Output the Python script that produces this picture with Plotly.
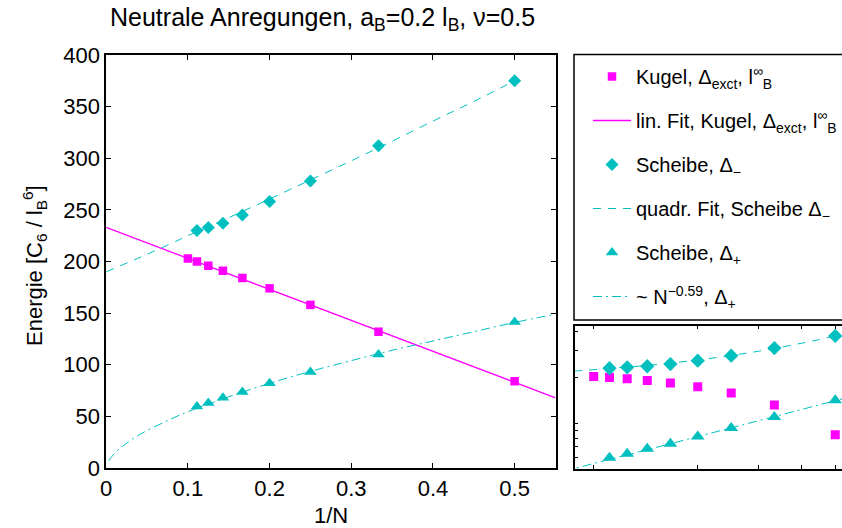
import plotly.graph_objects as go

# ---------------- data ----------------
inv_n_kugel = [0.1, 0.1111, 0.125, 0.1429, 0.1667, 0.2, 0.25, 0.3333, 0.5]
e_kugel = [203, 200, 196, 191, 184, 174, 158, 132, 84]

inv_n_scheibe = [0.1111, 0.125, 0.1429, 0.1667, 0.2, 0.25, 0.3333, 0.5]
e_scheibe_minus = [230, 233, 237, 245, 258, 278, 312, 375]
e_scheibe_plus = [59.5, 63, 68, 73.5, 82, 93, 110, 141.5]

# fit curves
lin_fit_x = [0.0, 0.55]
lin_fit_y = [233, 68]

quad_fit_x = [0.0, 0.05, 0.088, 0.1, 0.15, 0.2, 0.25, 0.3, 0.35, 0.4, 0.45, 0.5]
quad_fit_y = [190, 207, 220.5, 225, 242.5, 260.5, 279, 297.5, 316.5, 336, 355, 375]

pow_fit_x = [0.003, 0.01, 0.02, 0.04, 0.07, 0.088, 0.1, 0.15, 0.2, 0.25, 0.3,
             0.35, 0.4, 0.45, 0.5, 0.55]
pow_fit_y = [7, 14, 21, 32, 44, 50.6, 54.5, 69, 82, 93.6, 104, 114, 123, 132,
             141, 149]

x_ticks = [0, 0.1, 0.2, 0.3, 0.4, 0.5]
x_ticktext = ["0", "0.1", "0.2", "0.3", "0.4", "0.5"]
y_ticks = [0, 50, 100, 150, 200, 250, 300, 350, 400]
inset_x_ticks = [0.1, 0.2, 0.3, 0.4, 0.5]
inset_y_ticks = [60, 70, 80, 90, 100, 200, 300, 400]

title_text = "Neutrale Anregungen, a<sub>B</sub>=0.2 l<sub>B</sub>, ν=0.5"
x_title = "1/N"
y_title = "Energie [C<sub>6</sub> / l<sub>B</sub><sup>6</sup>]"
legend_names = [
    "Kugel, Δ<sub>exct</sub>, l<sup>∞</sup><sub>B</sub>",
    "lin. Fit, Kugel, Δ<sub>exct</sub>, l<sup>∞</sup><sub>B</sub>",
    "Scheibe, Δ<sub>−</sub>",
    "quadr. Fit, Scheibe Δ<sub>−</sub>",
    "Scheibe, Δ<sub>+</sub>",
    "~ N<sup>−0.59</sup>, Δ<sub>+</sub>",
]

# ---------------- styling ----------------
W, H = 842, 528
MAG = "#FF00FF"
CYAN = "#00BFBF"
FONT = "Liberation Sans, Arial, Helvetica, sans-serif"

def px_x(p):
    return p / W

def px_y(p):
    return 1 - p / H

fig = go.Figure()

# main plot traces (legend order)
fig.add_trace(go.Scatter(x=inv_n_kugel, y=e_kugel, mode="markers",
                         marker=dict(symbol="square", size=8.5, color=MAG),
                         name=legend_names[0], legendgroup="g1"))
fig.add_trace(go.Scatter(x=lin_fit_x, y=lin_fit_y, mode="lines",
                         line=dict(color=MAG, width=1.3),
                         name=legend_names[1], legendgroup="g2"))
fig.add_trace(go.Scatter(x=inv_n_scheibe, y=e_scheibe_minus, mode="markers",
                         marker=dict(symbol="diamond", size=10, color=CYAN),
                         name=legend_names[2], legendgroup="g3"))
fig.add_trace(go.Scatter(x=quad_fit_x, y=quad_fit_y, mode="lines",
                         line=dict(color=CYAN, width=1, dash="8px,7px"),
                         line_shape="spline",
                         name=legend_names[3], legendgroup="g4"))
fig.add_trace(go.Scatter(x=inv_n_scheibe, y=e_scheibe_plus, mode="markers",
                         marker=dict(symbol="triangle-up", size=11, color=CYAN),
                         name=legend_names[4], legendgroup="g5"))
fig.add_trace(go.Scatter(x=pow_fit_x, y=pow_fit_y, mode="lines",
                         line=dict(color=CYAN, width=1, dash="9px,4px,2px,4px"),
                         line_shape="spline",
                         name=legend_names[5], legendgroup="g6"))

# inset (log-log) traces
fig.add_trace(go.Scatter(x=quad_fit_x, y=quad_fit_y, mode="lines",
                         line=dict(color=CYAN, width=1, dash="8px,7px"),
                         line_shape="spline", showlegend=False,
                         xaxis="x2", yaxis="y2"))
fig.add_trace(go.Scatter(x=pow_fit_x, y=pow_fit_y, mode="lines",
                         line=dict(color=CYAN, width=1, dash="9px,4px,2px,4px"),
                         showlegend=False, xaxis="x2", yaxis="y2"))
fig.add_trace(go.Scatter(x=inv_n_kugel, y=e_kugel, mode="markers",
                         marker=dict(symbol="square", size=9, color=MAG),
                         showlegend=False, xaxis="x2", yaxis="y2"))
fig.add_trace(go.Scatter(x=inv_n_scheibe, y=e_scheibe_minus, mode="markers",
                         marker=dict(symbol="diamond", size=11, color=CYAN),
                         showlegend=False, xaxis="x2", yaxis="y2"))
fig.add_trace(go.Scatter(x=inv_n_scheibe, y=e_scheibe_plus, mode="markers",
                         marker=dict(symbol="triangle-up", size=12, color=CYAN),
                         showlegend=False, xaxis="x2", yaxis="y2"))

axis_common = dict(showgrid=False, zeroline=False, showline=True,
                   linecolor="black", linewidth=1.5, ticks="inside",
                   tickcolor="black", tickwidth=1,
                   tickfont=dict(family=FONT, size=22, color="black"))

fig.update_layout(
    width=W, height=H,
    margin=dict(l=0, r=0, t=0, b=0, autoexpand=False),
    paper_bgcolor="white", plot_bgcolor="white",
    font=dict(family=FONT, color="black"),
    xaxis=dict(domain=[px_x(106.2), px_x(555.5)], range=[0, 0.55],
               tickvals=x_ticks, ticktext=x_ticktext, mirror="ticks",
               anchor="y", ticklen=5, **axis_common),
    yaxis=dict(domain=[px_y(468), px_y(55)], range=[0, 400],
               tickvals=y_ticks, mirror="ticks", anchor="x", ticklen=5,
               **axis_common),
    xaxis2=dict(domain=[px_x(574.7), 1.0], type="log",
                range=[-1.055, -0.2815], tickvals=inset_x_ticks,
                showticklabels=False, mirror="ticks", anchor="y2",
                ticklen=4, **axis_common),
    yaxis2=dict(domain=[px_y(469), px_y(325.7)], type="log",
                range=[1.70, 2.641], tickvals=inset_y_ticks,
                showticklabels=False, mirror=False, anchor="x2",
                ticklen=4, **axis_common),
    legend=dict(x=px_x(588), y=px_y(57), xanchor="left", yanchor="top",
                bgcolor="rgba(0,0,0,0)", borderwidth=0,
                font=dict(family=FONT, size=20, color="black"),
                tracegroupgap=15, itemsizing="trace", itemwidth=38),
    showlegend=True,
)

# legend box (extends past the right edge as in the reference)
fig.add_shape(type="rect", xref="paper", yref="paper",
              x0=px_x(574), x1=1.05, y0=px_y(320), y1=px_y(54.5),
              line=dict(color="black", width=1.5), fillcolor="rgba(0,0,0,0)",
              layer="below")

# titles
fig.add_annotation(text=title_text, xref="paper", yref="paper",
                   x=px_x(322), y=px_y(19), xanchor="center", yanchor="middle",
                   showarrow=False, font=dict(family=FONT, size=25, color="black"))
fig.add_annotation(text=x_title, xref="paper", yref="paper",
                   x=px_x(331), y=px_y(515), xanchor="center", yanchor="middle",
                   showarrow=False, font=dict(family=FONT, size=22, color="black"))
fig.add_annotation(text=y_title, xref="paper", yref="paper",
                   x=px_x(34), y=px_y(266), xanchor="center", yanchor="middle",
                   textangle=-90, showarrow=False,
                   font=dict(family=FONT, size=22, color="black"))

fig.write_html("out.html",
               config={"displayModeBar": False},
               post_script="document.body.style.margin='0';"
                           "document.body.style.overflow='hidden';")
